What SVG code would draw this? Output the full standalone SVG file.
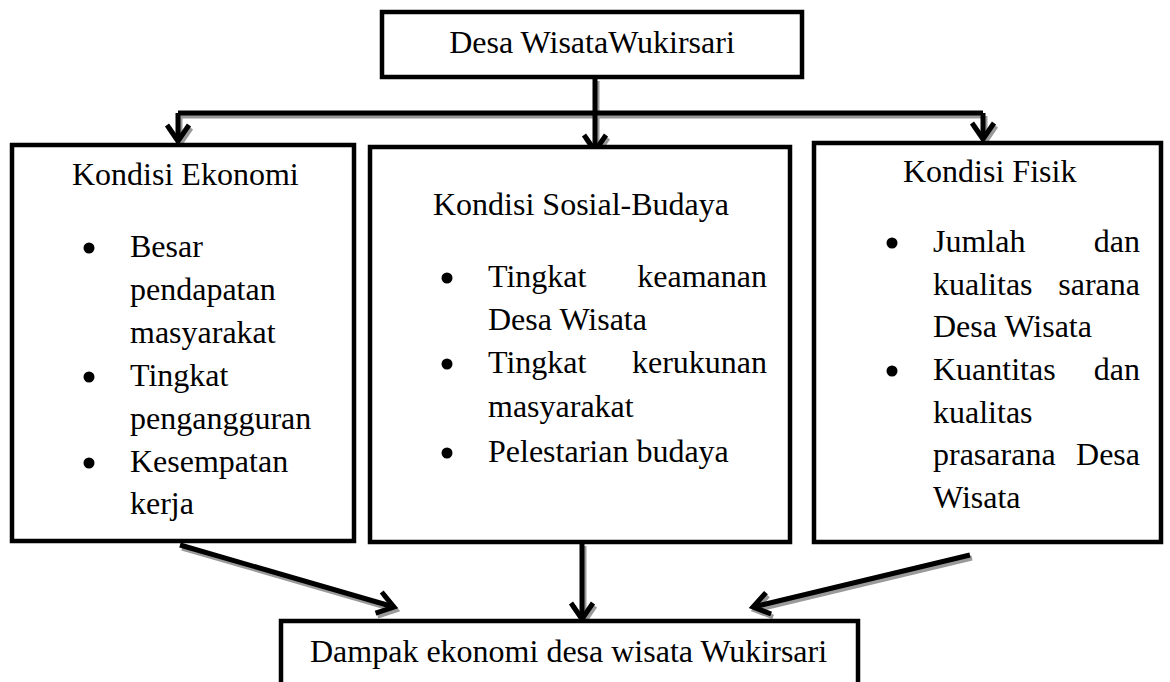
<svg xmlns="http://www.w3.org/2000/svg" width="1170" height="682" viewBox="0 0 1170 682">
<style>
.box{fill:#fff;stroke:#000;stroke-width:4.5}
.t{font-family:"Liberation Serif","Times New Roman",serif;font-size:32px;fill:#000}
.c{fill:none;stroke:#000;stroke-width:5}
.s{fill:none;stroke:#9a9a9a;stroke-width:5}
.b{fill:#000}
</style>
<defs>
<marker id="ah" markerUnits="userSpaceOnUse" markerWidth="40" markerHeight="40" viewBox="-22 -20 28 40" refX="0" refY="0" orient="auto">
<path d="M-16,-11 L0,0 L-16,11" fill="none" stroke="#000" stroke-width="5"/>
</marker>
<marker id="ahs" markerUnits="userSpaceOnUse" markerWidth="40" markerHeight="40" viewBox="-22 -20 28 40" refX="0" refY="0" orient="auto">
<path d="M-16,-11 L0,0 L-16,11" fill="none" stroke="#9a9a9a" stroke-width="5"/>
</marker>
</defs>
<rect width="1170" height="682" fill="#fff"/>
<g id="connectors">
<g transform="translate(2,3)">
<path class="s" d="M178,113 L983,113"/>
<path class="s" d="M595,78 L595,151" marker-end="url(#ahs)"/>
<path class="s" d="M178,113 L178,141" marker-end="url(#ahs)"/>
<path class="s" d="M983,113 L983,139" marker-end="url(#ahs)"/>
<path class="s" d="M180,545 L394,607" marker-end="url(#ahs)"/>
<path class="s" d="M582,543 L582,619" marker-end="url(#ahs)"/>
<path class="s" d="M970,555 L753,607" marker-end="url(#ahs)"/>
</g>
<path class="c" d="M178,113 L983,113"/>
<path class="c" d="M595,78 L595,151" marker-end="url(#ah)"/>
<path class="c" d="M178,113 L178,141" marker-end="url(#ah)"/>
<path class="c" d="M983,113 L983,139" marker-end="url(#ah)"/>
<path class="c" d="M180,545 L394,607" marker-end="url(#ah)"/>
<path class="c" d="M582,543 L582,619" marker-end="url(#ah)"/>
<path class="c" d="M970,555 L753,607" marker-end="url(#ah)"/>
</g>
<g id="top">
<rect class="box" x="382" y="12" width="420" height="65"/>
<text class="t" x="592" y="53" text-anchor="middle">Desa WisataWukirsari</text>
</g>
<g id="ekonomi">
<rect class="box" x="12" y="145" width="342" height="396"/>
<text class="t" x="72" y="185">Kondisi Ekonomi</text>
<circle class="b" cx="89" cy="248" r="5.5"/>
<text class="t" x="130" y="257">Besar</text>
<text class="t" x="130" y="300">pendapatan</text>
<text class="t" x="130" y="343">masyarakat</text>
<circle class="b" cx="89" cy="377" r="5.5"/>
<text class="t" x="130" y="386">Tingkat</text>
<text class="t" x="130" y="429">pengangguran</text>
<circle class="b" cx="89" cy="463" r="5.5"/>
<text class="t" x="130" y="472">Kesempatan</text>
<text class="t" x="130" y="514">kerja</text>
</g>
<g id="sosial">
<rect class="box" x="370" y="147" width="420" height="395"/>
<text class="t" x="433" y="215">Kondisi Sosial-Budaya</text>
<circle class="b" cx="447" cy="278" r="5.5"/>
<text class="t" x="488" y="287">Tingkat</text>
<text class="t" x="767" y="287" text-anchor="end">keamanan</text>
<text class="t" x="488" y="330">Desa Wisata</text>
<circle class="b" cx="447" cy="364" r="5.5"/>
<text class="t" x="488" y="373">Tingkat</text>
<text class="t" x="767" y="373" text-anchor="end">kerukunan</text>
<text class="t" x="488" y="417">masyarakat</text>
<circle class="b" cx="447" cy="453" r="5.5"/>
<text class="t" x="488" y="462">Pelestarian budaya</text>
</g>
<g id="fisik">
<rect class="box" x="814" y="143" width="347" height="399"/>
<text class="t" x="903" y="182">Kondisi Fisik</text>
<circle class="b" cx="892" cy="243" r="5.5"/>
<text class="t" x="933" y="252">Jumlah</text>
<text class="t" x="1140" y="252" text-anchor="end">dan</text>
<text class="t" x="933" y="295">kualitas</text>
<text class="t" x="1140" y="295" text-anchor="end">sarana</text>
<text class="t" x="933" y="337">Desa Wisata</text>
<circle class="b" cx="892" cy="371" r="5.5"/>
<text class="t" x="933" y="380">Kuantitas</text>
<text class="t" x="1140" y="380" text-anchor="end">dan</text>
<text class="t" x="933" y="423">kualitas</text>
<text class="t" x="933" y="465">prasarana</text>
<text class="t" x="1140" y="465" text-anchor="end">Desa</text>
<text class="t" x="933" y="508">Wisata</text>
</g>
<g id="dampak">
<rect class="box" x="281" y="621" width="577" height="80"/>
<text class="t" x="310" y="662">Dampak ekonomi desa wisata Wukirsari</text>
</g>
</svg>
